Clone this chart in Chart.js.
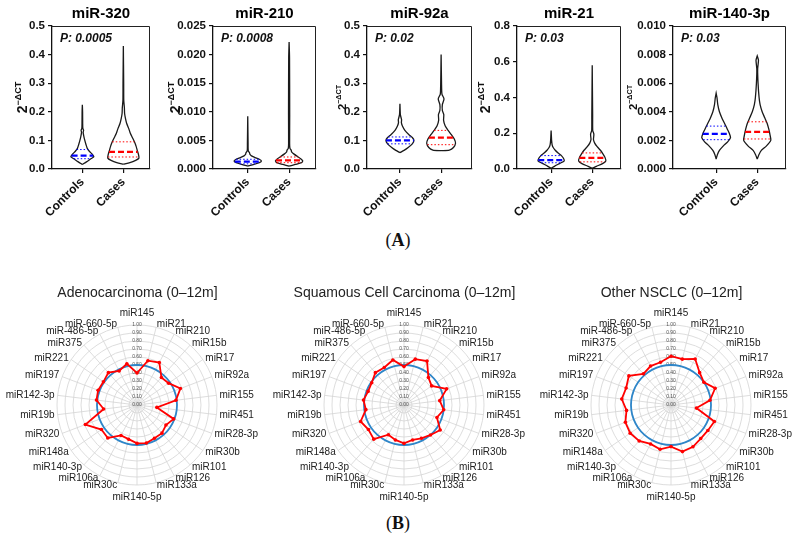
<!DOCTYPE html>
<html>
<head>
<meta charset="utf-8">
<script src="https://cdn.jsdelivr.net/npm/chart.js@4.4.1/dist/chart.umd.min.js"></script>
<style>
  body { margin: 0; background: #fff; width: 797px; height: 541px; position: relative; overflow: hidden; }
  canvas { position: absolute; }
  .tag { position: absolute; width: 60px; margin-left: -30px; text-align: center; font-family: "Liberation Serif", "Times New Roman", serif; font-size: 18px; line-height: 20px; color: #111; }
</style>
</head>
<body>
<div class="tag" style="left:398px;top:230px">(<b>A</b>)</div>
<div class="tag" style="left:398px;top:513px">(<b>B</b>)</div>
<script>
const FONT = "Arial, 'Liberation Sans', sans-serif";

// ---- panel A : violin plots ----
const groups = ['Controls', 'Cases'];
const markers = ['miR-320', 'miR-210', 'miR-92a', 'miR-21', 'miR-140-3p'];
const pValues = ['0.0005', '0.0008', '0.02', '0.03', '0.03'];
const yMax = [0.5, 0.025, 0.5, 0.8, 0.010];
const yStep = [0.1, 0.005, 0.1, 0.2, 0.002];
const yDecimals = [1, 3, 1, 1, 3];

// violin outlines: levels (2^-dCT) and half widths (in category units)
const miR320CtrlY = [0.016, 0.025, 0.035, 0.043, 0.052, 0.062, 0.072, 0.085, 0.1, 0.115, 0.128, 0.135, 0.142, 0.16, 0.2, 0.225];
const miR320CtrlW = [0, 0.1, 0.2, 0.28, 0.24, 0.17, 0.12, 0.09, 0.06, 0.035, 0.02, 0.03, 0.012, 0.008, 0.006, 0];
const miR320CaseY = [0.017, 0.022, 0.03, 0.038, 0.05, 0.065, 0.08, 0.095, 0.11, 0.125, 0.142, 0.16, 0.178, 0.195, 0.215, 0.24, 0.3, 0.43];
const miR320CaseW = [0, 0.16, 0.3, 0.38, 0.37, 0.34, 0.31, 0.27, 0.22, 0.17, 0.13, 0.08, 0.05, 0.03, 0.025, 0.01, 0.008, 0];

const miR210CtrlY = [0.0005, 0.0008, 0.0011, 0.0014, 0.0017, 0.002, 0.0023, 0.0026, 0.0028, 0.0032, 0.0045, 0.0092];
const miR210CtrlW = [0, 0.15, 0.28, 0.33, 0.28, 0.18, 0.09, 0.05, 0.045, 0.012, 0.008, 0];
const miR210CaseY = [0.0005, 0.0008, 0.0011, 0.0014, 0.0018, 0.0022, 0.0026, 0.003, 0.0033, 0.0036, 0.0045, 0.0095, 0.0195, 0.0222];
const miR210CaseW = [0, 0.15, 0.3, 0.33, 0.28, 0.2, 0.12, 0.06, 0.05, 0.02, 0.012, 0.014, 0.01, 0];

const miR92aCtrlY = [0.057, 0.065, 0.075, 0.088, 0.1, 0.11, 0.12, 0.135, 0.15, 0.162, 0.172, 0.178, 0.19, 0.228];
const miR92aCtrlW = [0, 0.1, 0.2, 0.3, 0.34, 0.3, 0.22, 0.12, 0.06, 0.035, 0.04, 0.03, 0.01, 0];
const miR92aCaseY = [0.064, 0.066, 0.075, 0.09, 0.105, 0.12, 0.135, 0.15, 0.17, 0.19, 0.205, 0.225, 0.245, 0.262, 0.3, 0.4];
const miR92aCaseW = [0, 0.2, 0.3, 0.35, 0.32, 0.25, 0.17, 0.1, 0.06, 0.065, 0.03, 0.03, 0.07, 0.02, 0.01, 0];

const miR21CtrlY = [0.004, 0.015, 0.03, 0.045, 0.06, 0.075, 0.09, 0.105, 0.12, 0.135, 0.16, 0.215];
const miR21CtrlW = [0, 0.08, 0.2, 0.32, 0.3, 0.25, 0.17, 0.1, 0.05, 0.025, 0.012, 0];
const miR21CaseY = [0.004, 0.015, 0.03, 0.045, 0.065, 0.085, 0.105, 0.125, 0.145, 0.165, 0.19, 0.2, 0.215, 0.3, 0.58];
const miR21CaseW = [0, 0.1, 0.25, 0.33, 0.31, 0.26, 0.2, 0.12, 0.06, 0.03, 0.04, 0.035, 0.012, 0.01, 0];

const miR140CtrlY = [0.0007, 0.001, 0.0013, 0.0016, 0.0019, 0.0022, 0.0025, 0.0028, 0.0031, 0.0035, 0.004, 0.0045, 0.005, 0.0053];
const miR140CtrlW = [0, 0.03, 0.08, 0.17, 0.28, 0.35, 0.32, 0.27, 0.22, 0.15, 0.08, 0.04, 0.02, 0];
const miR140CaseY = [0.0007, 0.001, 0.0013, 0.0016, 0.002, 0.0024, 0.0028, 0.0032, 0.0036, 0.004, 0.0045, 0.005, 0.006, 0.007, 0.0076, 0.0079];
const miR140CaseW = [0, 0.04, 0.1, 0.22, 0.33, 0.31, 0.28, 0.24, 0.18, 0.12, 0.07, 0.045, 0.02, 0.01, 0.03, 0];

const medians = [[0.047, 0.06], [0.0013, 0.0015], [0.1, 0.11], [0.05, 0.062], [0.00245, 0.0026]];
const lowerQuartiles = [[0.036, 0.042], [0.0009, 0.0011], [0.088, 0.085], [0.035, 0.04], [0.00205, 0.0021]];
const upperQuartiles = [[0.068, 0.095], [0.0017, 0.0021], [0.112, 0.135], [0.075, 0.09], [0.003, 0.0033]];

const violinY = [[miR320CtrlY, miR320CaseY], [miR210CtrlY, miR210CaseY], [miR92aCtrlY, miR92aCaseY], [miR21CtrlY, miR21CaseY], [miR140CtrlY, miR140CaseY]];
const violinW = [[miR320CtrlW, miR320CaseW], [miR210CtrlW, miR210CaseW], [miR92aCtrlW, miR92aCaseW], [miR21CtrlW, miR21CaseW], [miR140CtrlW, miR140CaseW]];

// ---- panel B : radar charts ----
const radarLabels = ['miR145', 'miR21', 'miR210', 'miR15b', 'miR17', 'miR92a', 'miR155', 'miR451', 'miR28-3p', 'miR30b',
  'miR101', 'miR126', 'miR133a', 'miR140-5p', 'miR30c', 'miR106a', 'miR140-3p', 'miR148a', 'miR320', 'miR19b',
  'miR142-3p', 'miR197', 'miR221', 'miR375', 'miR-486-5p', 'miR-660-5p'];
const radarTitles = ['Adenocarcinoma (0–12m]', 'Squamous Cell Carcinoma (0–12m]', 'Other NSCLC (0–12m]'];
const adenoValues = [0.40, 0.57, 0.60, 0.46, 0.48, 0.58, 0.49, 0.25, 0.49, 0.44, 0.47, 0.47, 0.49, 0.48, 0.44, 0.43, 0.55, 0.54, 0.69, 0.42, 0.51, 0.52, 0.51, 0.54, 0.48, 0.53];
const squamousValues = [0.48, 0.59, 0.62, 0.46, 0.42, 0.57, 0.45, 0.50, 0.44, 0.55, 0.50, 0.47, 0.45, 0.48, 0.45, 0.42, 0.57, 0.54, 0.58, 0.48, 0.51, 0.48, 0.49, 0.54, 0.53, 0.58];
const otherValues = [0.61, 0.59, 0.65, 0.54, 0.50, 0.59, 0.49, 0.32, 0.58, 0.56, 0.56, 0.59, 0.60, 0.52, 0.57, 0.55, 0.60, 0.62, 0.61, 0.56, 0.62, 0.60, 0.64, 0.52, 0.55, 0.55];
const referenceLevel = [0.5, 0.5, 0.5, 0.5, 0.5, 0.5, 0.5, 0.5, 0.5, 0.5, 0.5, 0.5, 0.5, 0.5, 0.5, 0.5, 0.5, 0.5, 0.5, 0.5, 0.5, 0.5, 0.5, 0.5, 0.5, 0.5];

// layout of the top panels (plot area in page pixels)
const plotX = [[52, 150], [213, 316], [367, 472], [517, 621], [673, 786]];
const xRange = [[-0.74, 1.65], [-0.84, 1.65], [-0.8, 1.75], [-0.83, 1.7], [-1.05, 1.7]];
const yTitleOffset = [25, 33, 21, 27, 36];
const yTitleScale = [1, 1, 0.8, 1, 0.8];

function makeCanvas(left, top, width, height) {
  const c = document.createElement('canvas');
  c.width = width; c.height = height;
  c.style.left = left + 'px'; c.style.top = top + 'px';
  c.style.width = width + 'px'; c.style.height = height + 'px';
  document.body.appendChild(c);
  return c.getContext('2d');
}

function widthAt(levels, widths, v) {
  for (let i = 1; i < levels.length; i++) {
    if (v <= levels[i]) {
      const t = (v - levels[i - 1]) / (levels[i] - levels[i - 1]);
      return widths[i - 1] + t * (widths[i] - widths[i - 1]);
    }
  }
  return 0;
}

const violinDecor = {
  id: 'violinDecor',
  afterDraw(chart, args, opts) {
    const { ctx, chartArea: a } = chart;
    ctx.save();
    ctx.strokeStyle = '#222';
    ctx.lineWidth = 1;
    ctx.beginPath();
    ctx.moveTo(a.left, a.top + 0.5);
    ctx.lineTo(a.right - 0.5, a.top + 0.5);
    ctx.lineTo(a.right - 0.5, a.bottom);
    ctx.stroke();

    ctx.fillStyle = '#111';
    ctx.font = `italic bold 12px ${FONT}`;
    ctx.textBaseline = 'middle';
    ctx.fillText('P: ' + opts.p, a.left + 8, a.top + 13);

    // y title 2^-dCT
    const s = opts.scale;
    const big = `bold ${14 * s}px ${FONT}`;
    const small = `bold ${9 * s}px ${FONT}`;
    ctx.font = big;
    const w1 = ctx.measureText('2').width;
    ctx.font = small;
    const w2 = ctx.measureText('−ΔCT').width;
    ctx.translate(a.left - opts.offset, (a.top + a.bottom) / 2);
    ctx.rotate(-Math.PI / 2);
    ctx.textBaseline = 'alphabetic';
    ctx.textAlign = 'left';
    const x0 = -(w1 + w2) / 2;
    ctx.font = big;
    ctx.fillText('2', x0, 0);
    ctx.font = small;
    ctx.fillText('−ΔCT', x0 + w1, -6 * s);
    ctx.restore();
  },
};

function violinChart(p) {
  const [left, right] = plotX[p];
  const yAxisW = 55;
  const canvasLeft = left - yAxisW;
  const width = right - left + yAxisW + 6;
  const ctx = makeCanvas(canvasLeft, 0, width, 230);

  const datasets = [];
  groups.forEach((g, k) => {
    const levels = violinY[p][k];
    const widths = violinW[p][k];
    const up = levels.map((v, i) => ({ x: k + widths[i], y: v }));
    const down = levels.map((v, i) => ({ x: k - widths[i], y: v })).reverse();
    datasets.push({
      data: up.concat(down),
      showLine: true,
      borderColor: '#1a1a1a',
      borderWidth: 1.3,
      pointRadius: 0,
      tension: 0.2,
      order: 2,
    });
    const color = k === 0 ? '#0000ff' : '#ff0000';
    const hline = (v) => {
      const hw = widthAt(levels, widths, v);
      return [{ x: k - hw, y: v }, { x: k + hw, y: v }];
    };
    datasets.push({ data: hline(medians[p][k]), showLine: true, borderColor: color, borderWidth: 2.2, borderDash: [6, 3], pointRadius: 0, order: 0 });
    datasets.push({ data: hline(lowerQuartiles[p][k]), showLine: true, borderColor: color, borderWidth: 1, borderDash: [1.5, 2], pointRadius: 0, order: 1 });
    datasets.push({ data: hline(upperQuartiles[p][k]), showLine: true, borderColor: color, borderWidth: 1, borderDash: [1.5, 2], pointRadius: 0, order: 1 });
  });

  new Chart(ctx, {
    type: 'scatter',
    data: { datasets },
    plugins: [violinDecor],
    options: {
      responsive: false,
      animation: false,
      devicePixelRatio: 1,
      layout: { padding: { right: 6, left: 0, bottom: 0, top: 0 } },
      plugins: {
        legend: { display: false },
        tooltip: { enabled: false },
        title: {
          display: true,
          fullSize: false,
          text: markers[p],
          color: '#000',
          font: { family: FONT, size: 15, weight: 'bold' },
          padding: { top: 5, bottom: 3 },
        },
        violinDecor: { p: pValues[p], offset: yTitleOffset[p], scale: yTitleScale[p] },
      },
      scales: {
        x: {
          type: 'linear',
          min: xRange[p][0],
          max: xRange[p][1],
          afterBuildTicks: (s) => { s.ticks = [{ value: 0 }, { value: 1 }]; },
          afterFit: (s) => { s.height = 61; },
          ticks: {
            callback: (v) => groups[v],
            minRotation: 45,
            maxRotation: 45,
            color: '#111',
            padding: 2,
            font: { family: FONT, size: 12, weight: 'bold' },
          },
          grid: { drawOnChartArea: false, drawTicks: true, tickLength: 4, color: '#111', lineWidth: 1.2 },
          border: { color: '#111', width: 1.3 },
        },
        y: {
          min: 0,
          max: yMax[p],
          afterFit: (s) => { s.width = yAxisW; },
          ticks: {
            stepSize: yStep[p],
            callback: (v) => v.toFixed(yDecimals[p]),
            color: '#111',
            padding: 3,
            font: { family: FONT, size: 11.5, weight: 'bold' },
          },
          grid: { drawOnChartArea: false, drawTicks: true, tickLength: 4, color: '#111', lineWidth: 1.2 },
          border: { color: '#111', width: 1.3 },
        },
      },
    },
  });
}

// spoke labels placed around the outer ring, centred vertically on their anchor
const radarText = {
  id: 'radarText',
  afterDraw(chart) {
    const s = chart.scales.r;
    const ctx = chart.ctx;
    ctx.save();
    ctx.fillStyle = '#222';
    ctx.font = `10px ${FONT}`;
    ctx.textBaseline = 'middle';
    radarLabels.forEach((label, i) => {
      const side = Math.sin((i / radarLabels.length) * 2 * Math.PI);
      const extra = Math.abs(side) < 0.05 ? 9 : 0;
      const pos = s.getPointPosition(i, s.drawingArea + 3 + extra);
      ctx.textAlign = side > 0.05 ? 'left' : side < -0.05 ? 'right' : 'center';
      ctx.fillText(label, pos.x, pos.y);
    });
    ctx.fillStyle = '#555';
    ctx.font = `5px ${FONT}`;
    ctx.textAlign = 'center';
    ctx.fillText('0.00', s.xCenter, s.yCenter);
    ctx.restore();
  },
};

function radarChart(r, values, left) {
  const ctx = makeCanvas(left, 271, 267, 239);
  new Chart(ctx, {
    type: 'radar',
    data: {
      labels: radarLabels,
      datasets: [
        {
          data: values,
          borderColor: '#ff0000',
          backgroundColor: '#ff0000',
          pointBackgroundColor: '#ff0000',
          pointBorderWidth: 0,
          borderWidth: 1.8,
          pointRadius: 1.8,
          fill: false,
        },
        {
          data: referenceLevel,
          borderColor: '#2e86c9',
          borderWidth: 1.8,
          pointRadius: 0,
          tension: 0.33,
          fill: false,
        },
      ],
    },
    plugins: [radarText],
    options: {
      responsive: false,
      animation: false,
      devicePixelRatio: 1,
      plugins: {
        legend: { display: false },
        tooltip: { enabled: false },
        title: {
          display: true,
          text: radarTitles[r],
          color: '#222',
          font: { family: FONT, size: 14, weight: 'normal' },
          padding: { top: 14, bottom: 4 },
        },
      },
      scales: {
        r: {
          min: 0,
          max: 1,
          // ring of value 1.00 at 80 px, centre fixed inside the canvas
          afterFit: (s) => { s.xCenter = 133; s.yCenter = 134; s.drawingArea = 80; },
          ticks: {
            stepSize: 0.1,
            callback: (v) => v.toFixed(2),
            color: '#555',
            showLabelBackdrop: false,
            font: { family: FONT, size: 5 },
          },
          grid: { circular: true, color: '#d4d4d4', lineWidth: 0.8 },
          angleLines: { color: '#d4d4d4', lineWidth: 0.8 },
          pointLabels: { display: false },
        },
      },
    },
  });
}

markers.forEach((m, p) => violinChart(p));
radarChart(0, adenoValues, 4);
radarChart(1, squamousValues, 271);
radarChart(2, otherValues, 538);
</script>
</body>
</html>
